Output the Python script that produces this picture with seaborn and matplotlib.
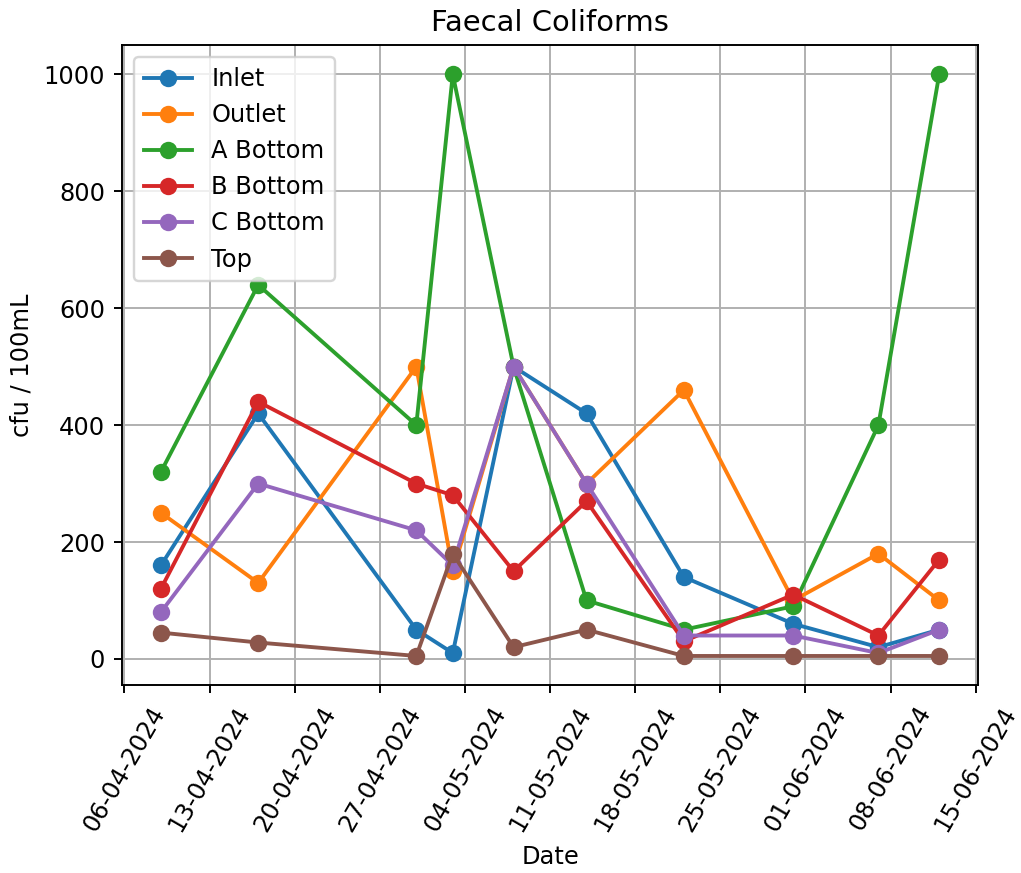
import matplotlib
matplotlib.use("Agg")
import matplotlib.pyplot as plt
import matplotlib.dates as mdates
import seaborn as sns
import pandas as pd

dates = ["2024-04-09", "2024-04-17", "2024-04-30", "2024-05-03", "2024-05-08",
         "2024-05-14", "2024-05-22", "2024-05-31", "2024-06-07", "2024-06-12"]
inlet    = [160, 420, 50, 10, 500, 420, 140, 60, 20, 50]
outlet   = [250, 130, 500, 150, 500, 300, 460, 100, 180, 100]
a_bottom = [320, 640, 400, 1000, 500, 100, 50, 90, 400, 1000]
b_bottom = [120, 440, 300, 280, 150, 270, 30, 110, 40, 170]
c_bottom = [80, 300, 220, 160, 500, 300, 40, 40, 10, 50]
top      = [45, 28, 5, 180, 20, 50, 5, 5, 5, 5]

series = {"Inlet": inlet, "Outlet": outlet, "A Bottom": a_bottom,
          "B Bottom": b_bottom, "C Bottom": c_bottom, "Top": top}
colors = ["#1f77b4", "#ff7f0e", "#2ca02c", "#d62728", "#9467bd", "#8c564b"]

plt.rcParams['font.family'] = ['DejaVu Sans']

DPI = 174
fig, ax = plt.subplots(figsize=(1021/DPI, 873/DPI), dpi=DPI)
x = pd.to_datetime(dates)
for (name, vals), c in zip(series.items(), colors):
    df = pd.DataFrame({"Date": x, "v": vals})
    sns.lineplot(data=df, x="Date", y="v", ax=ax, color=c, marker="o",
                 markersize=7.2, markeredgewidth=0, linewidth=1.6, label=name)

ax.xaxis.set_major_locator(mdates.WeekdayLocator(byweekday=mdates.SA))
ax.xaxis.set_major_formatter(mdates.DateFormatter("%d-%m-%Y"))
plt.setp(ax.get_xticklabels(), rotation=60)
ax.grid(True, color="#b0b0b0", linewidth=0.8)
ax.set_xlabel("Date")
ax.set_ylabel("cfu / 100mL")
ax.set_title("Faecal Coliforms")
ax.legend(loc="upper left", frameon=True)
fig.subplots_adjust(left=0.1195, right=0.958, top=0.948, bottom=0.2153)
fig.savefig("out.png", dpi=DPI)
